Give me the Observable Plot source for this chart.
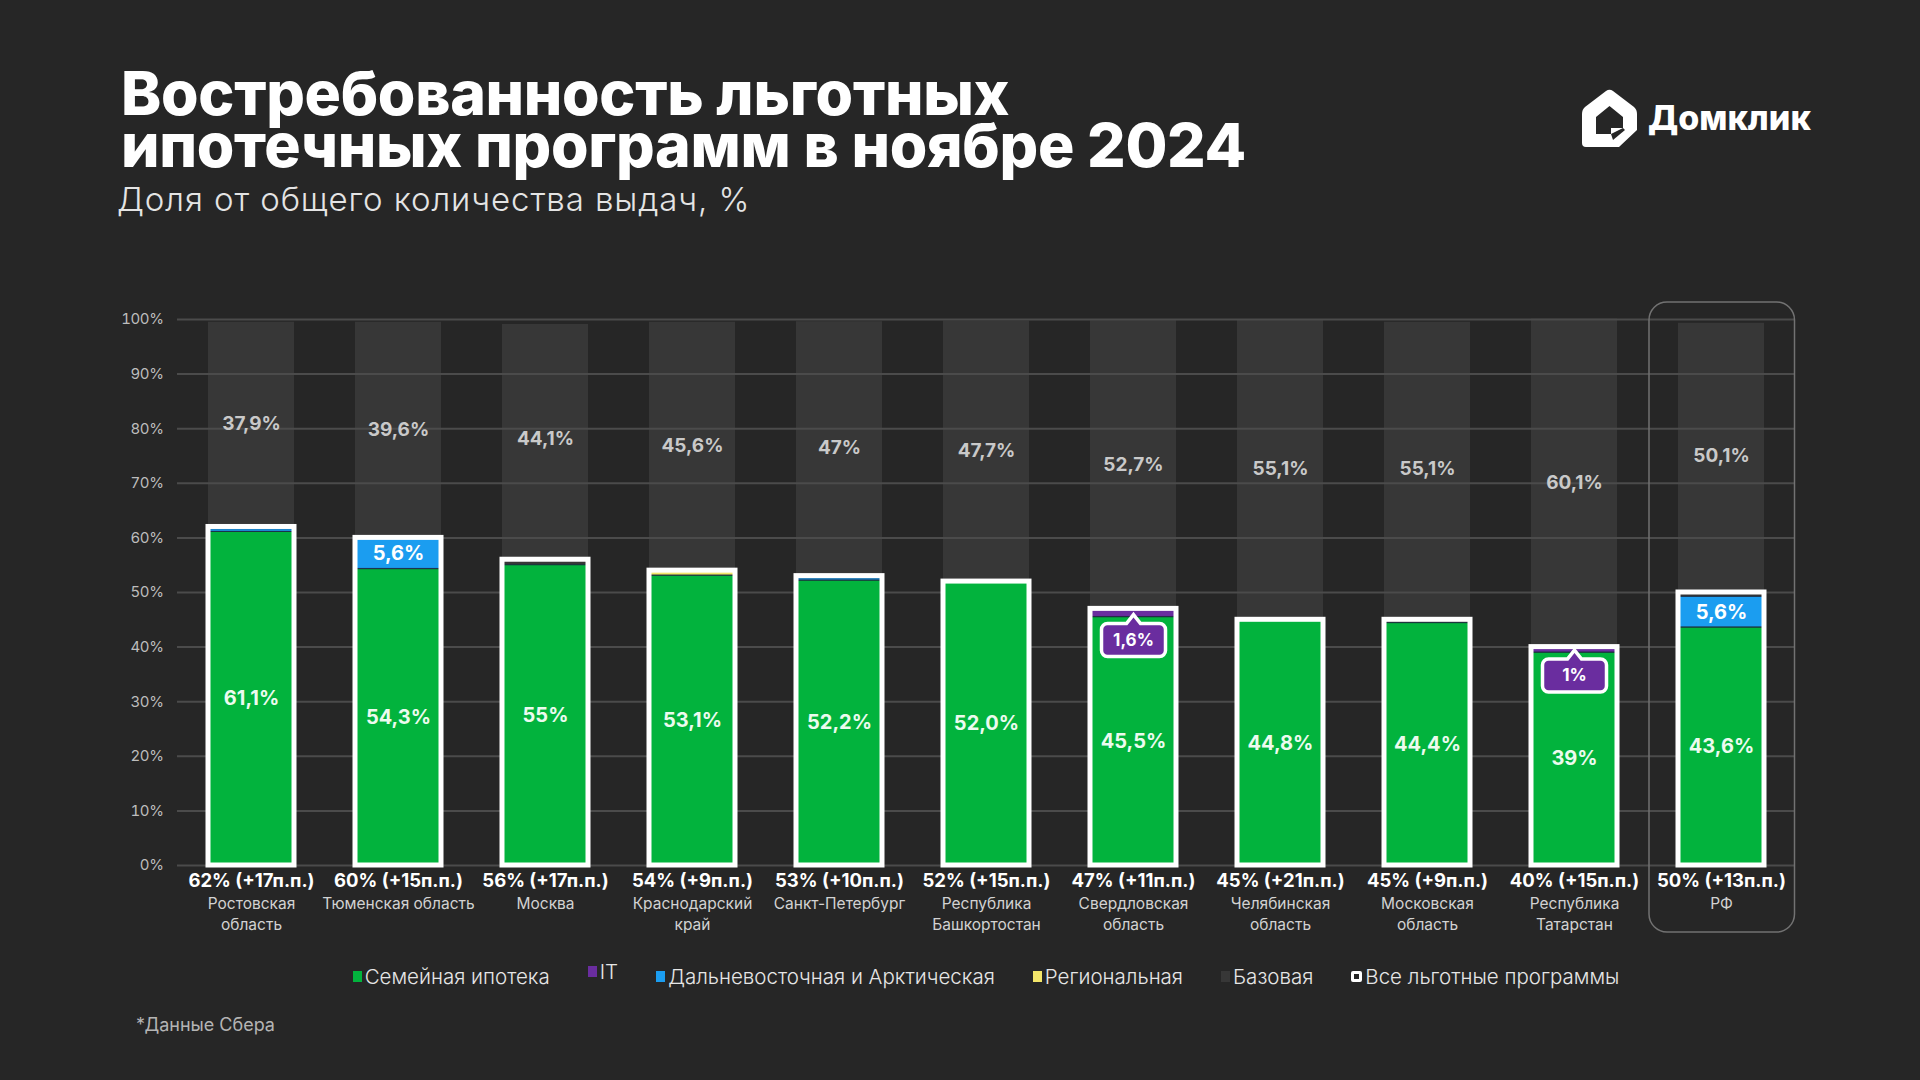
<!DOCTYPE html>
<html>
<head>
<meta charset="utf-8">
<script src="https://cdn.jsdelivr.net/npm/d3@7"></script>
<script src="https://cdn.jsdelivr.net/npm/@observablehq/plot@0.6"></script>
<style>
  html, body { margin: 0; padding: 0; background: #262626; width: 1920px; height: 1080px; overflow: hidden; font-family: Inter, "Noto Sans", sans-serif; }
  #header { position: relative; height: 290px; }
  #title { position: absolute; left: 121px; top: 67px; margin: 0; color: #ffffff; font-weight: 800; font-size: 60.7px; line-height: 52px; letter-spacing: -0.3px; }
  #subtitle { position: absolute; left: 117px; top: 183px; margin: 0; color: #e4e4e4; font-weight: 300; font-size: 33px; line-height: 33px; letter-spacing: 0.9px; }
  #logo { position: absolute; left: 1580px; top: 88px; }
  #chart { height: 660px; }
  #chart svg { display: block; }
  #chart svg g[aria-label="y-axis tick label"] text { letter-spacing: -0.4px; }
  #legend { height: 52px; display: flex; justify-content: center; align-items: center; gap: 38px; color: #e6e6e6; font-size: 20.5px; font-weight: 300; padding-left: 52px; }
  #legend .item { display: flex; align-items: center; }
  #legend .sw { display: inline-block; width: 9px; height: 11px; margin-right: 3px; }
  #legend .raised { transform: translateY(-5px); }
  #footer { position: absolute; left: 136px; top: 1014px; color: #b4b4b4; font-size: 18px; font-weight: 400; }
</style>
</head>
<body>
<div id="header">
  <h1 id="title">Востребованность льготных<br>ипотечных программ в ноябре 2024</h1>
  <p id="subtitle">Доля от общего количества выдач, %</p>
  <svg id="logo" width="240" height="64" viewBox="0 0 240 64">
    <path fill="#ffffff" fill-rule="evenodd" d="M5,19 Q2,21.5 2,26 L2,55 Q2,59 6,59 L39,59 L57,42 L57,26 Q57,21.5 54,19 L33,3 Q29.5,0.5 26,3 Z M16,29 L29.5,18 L43,29 L43,40 L31,40 L31,46 L16,46 Z"/>
    <path fill="#262626" d="M31,46 L43,40 L45,42 L33,52 Z"/>
    <text x="68" y="42" fill="#ffffff" font-family="Inter, sans-serif" font-weight="800" font-size="34" letter-spacing="0">Домклик</text>
  </svg>
</div>
<div id="chart"></div>
<div id="legend"></div>
<div id="footer">*Данные Сбера</div>

<script>
// ---- data ----
const regions = ["Ростовская\nобласть", "Тюменская область", "Москва", "Краснодарский\nкрай", "Санкт-Петербург", "Республика\nБашкортостан", "Свердловская\nобласть", "Челябинская\nобласть", "Московская\nобласть", "Республика\nТатарстан", "РФ"];
const family   = [61.1, 54.3, 55, 53.1, 52.2, 52.0, 45.5, 44.8, 44.4, 39, 43.6];
const familyLabels = ["61,1%", "54,3%", "55%", "53,1%", "52,2%", "52,0%", "45,5%", "44,8%", "44,4%", "39%", "43,6%"];
const itShare  = [0, 0, 0, 0, 0, 0, 1.6, 0, 0, 1, 0];
const itLabels = ["", "", "", "", "", "", "1,6%", "", "", "1%", ""];
const farEast  = [0.5, 5.6, 0, 0, 0.4, 0, 0, 0, 0, 0, 5.6];
const farEastLabels = ["", "5,6%", "", "", "", "", "", "", "", "", "5,6%"];
const regional = [0, 0, 0, 0.8, 0, 0, 0, 0, 0, 0, 0];
const base     = [37.9, 39.6, 44.1, 45.6, 47, 47.7, 52.7, 55.1, 55.1, 60.1, 50.1];
const baseLabels = ["37,9%", "39,6%", "44,1%", "45,6%", "47%", "47,7%", "52,7%", "55,1%", "55,1%", "60,1%", "50,1%"];
const allPrograms = [62, 60, 56, 54, 53, 52, 47, 45, 45, 40, 50];
const change   = [17, 15, 17, 9, 10, 15, 11, 21, 9, 15, 13];
const yTicks   = [0, 10, 20, 30, 40, 50, 60, 70, 80, 90, 100];
const seriesNames  = ["Семейная ипотека", "IT", "Дальневосточная и Арктическая", "Региональная", "Базовая"];
const seriesColors = ["#02b33d", "#6a2d9f", "#1b9df0", "#f3e66a", "#373737"];
const totalLegend = "Все льготные программы";
const highlight = "РФ";

// ---- tables built from the arrays ----
const seriesValues = [family, itShare, farEast, regional, base];
const long = [];
seriesNames.forEach((s, si) => regions.forEach((r, i) => long.push({region: r, series: s, value: seriesValues[si][i]})));
const rows = regions.map((r, i) => ({
  region: r, family: family[i], familyLabel: familyLabels[i], it: itShare[i], itLabel: itLabels[i],
  farEast: farEast[i], farEastLabel: farEastLabels[i], base: base[i], baseLabel: baseLabels[i],
  all: allPrograms[i], change: change[i]
}));

// callout bubble symbol (rounded box with an upward pointer)
const callout = {
  draw(ctx) {
    const w = 32, h = 16.5, r = 6, pw = 7, ph = 9;
    ctx.moveTo(-w + r, -h);
    ctx.lineTo(-pw, -h);
    ctx.lineTo(0, -h - ph);
    ctx.lineTo(pw, -h);
    ctx.lineTo(w - r, -h);
    ctx.arcTo(w, -h, w, -h + r, r);
    ctx.lineTo(w, h - r);
    ctx.arcTo(w, h, w - r, h, r);
    ctx.lineTo(-w + r, h);
    ctx.arcTo(-w, h, -w, h - r, r);
    ctx.lineTo(-w, -h + r);
    ctx.arcTo(-w, -h, -w + r, -h, r);
    ctx.closePath();
  }
};

const font = "Inter, 'Noto Sans', sans-serif";

const chart = Plot.plot({
  width: 1920,
  height: 660,
  marginTop: 29,
  marginBottom: 85,
  marginLeft: 177,
  marginRight: 125,
  style: {background: "transparent", fontFamily: font, color: "#bdbdbd"},
  x: {domain: regions, paddingInner: 0.415, paddingOuter: 0.2075, axis: null},
  y: {domain: [0, 100], axis: null},
  color: {domain: seriesNames, range: seriesColors},
  marks: [
    // all stacked segments (gray "Базовая" fills up to 100%)
    Plot.barY(long, Plot.stackY({x: "region", y: "value", fill: "series"})),
    // grid
    Plot.ruleY(yTicks, {stroke: "#4b4b4b", strokeWidth: 2}),
    Plot.axisY({ticks: yTicks, tickSize: 0, tickPadding: 14, tickFormat: d => d + "%", fontSize: 15, fill: "#bdbdbd"}),
    // preferential segments drawn again above the grid
    Plot.barY(long, Plot.stackY({filter: d => d.series !== "Базовая", x: "region", y: "value", fill: "series", stroke: "#1d2c3e", strokeWidth: 1.2, strokeOpacity: 0.85})),
    // white outline = all preferential programs
    Plot.barY(rows, {x: "region", y: "all", fill: "none", stroke: "#ffffff", strokeWidth: 5}),
    // value labels
    Plot.text(rows, {x: "region", y: d => d.family / 2, text: "familyLabel", fill: "#ecfbef", fontSize: 20, fontWeight: 700}),
    Plot.text(rows, {filter: d => d.farEastLabel, x: "region", y: d => d.family + d.farEast / 2, text: "farEastLabel", fill: "#ffffff", fontSize: 20, fontWeight: 700}),
    Plot.text(rows, {x: "region", y: d => d.all + d.base / 2, text: "baseLabel", fill: "#c9c9c9", fontSize: 19, fontWeight: 700}),
    // IT callouts
    Plot.dot(rows, {filter: d => d.it > 0, x: "region", y: "family", dy: 23, symbol: callout, r: 10, fill: "#6a2d9f", stroke: "#ffffff", strokeWidth: 3.5}),
    Plot.text(rows, {filter: d => d.it > 0, x: "region", y: "family", dy: 23, text: "itLabel", fill: "#ffffff", fontSize: 17, fontWeight: 700}),
    // category labels under the bars
    Plot.text(rows, {x: "region", frameAnchor: "bottom", dy: 21, text: d => `${d.all}% (+${d.change}п.п.)`, fill: "#ffffff", fontSize: 18.5, fontWeight: 700}),
    Plot.text(rows, {x: "region", frameAnchor: "bottom", dy: 28.5, lineAnchor: "top", lineHeight: 1.35, text: "region", fill: "#d2d2d2", fontSize: 15.5, fontWeight: 400})
  ]
});
document.getElementById("chart").appendChild(chart);

// highlight frame around the national total column
{
  const xs = chart.scale("x"), ys = chart.scale("y");
  const cx = xs.apply(highlight) + xs.bandwidth / 2;
  const step = xs.step;
  const top = ys.apply(100) - 17, bottom = ys.apply(0) + 67;
  d3.select(chart).append("rect")
    .attr("x", cx - step / 2 + 1.5).attr("width", step - 1.5)
    .attr("y", top).attr("height", bottom - top)
    .attr("rx", 18).attr("fill", "none")
    .attr("stroke", "#727272").attr("stroke-width", 1.5);
}

// legend
{
  const legend = d3.select("#legend");
  seriesNames.forEach((s, i) => {
    const it = legend.append("div").attr("class", "item" + (s === "IT" ? " raised" : ""));
    it.append("span").attr("class", "sw").style("background", seriesColors[i]);
    it.append("span").text(s);
  });
  const t = legend.append("div").attr("class", "item");
  t.append("span").attr("class", "sw").style("background", "#262626").style("box-sizing", "border-box").style("border", "3px solid #ffffff").style("width", "11px").style("border-radius", "2px");
  t.append("span").text(totalLegend);
}
</script>
</body>
</html>
